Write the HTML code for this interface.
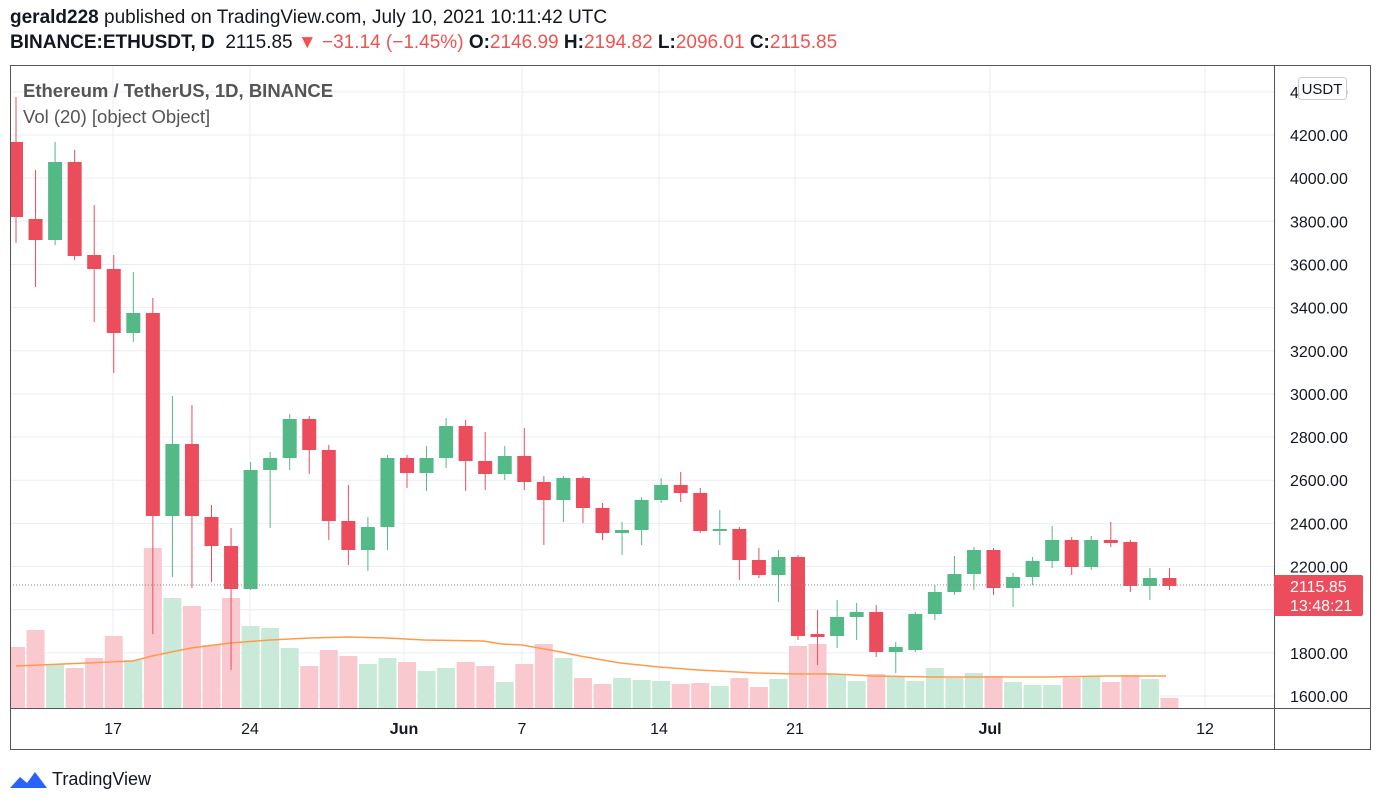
<!DOCTYPE html>
<html><head><meta charset="utf-8"><style>
body{margin:0;background:#fff;width:1381px;height:806px;overflow:hidden;font-family:"Liberation Sans",sans-serif}
.h{position:absolute;left:10px;font-size:19px;color:#131722;white-space:nowrap}
.r{color:#ef5350}
</style></head><body>
<div class="h" style="top:7px"><b>gerald228</b> published on TradingView.com, July 10, 2021 10:11:42 UTC</div>
<div class="h" style="top:32px"><b>BINANCE:ETHUSDT, D</b>&nbsp; 2115.85 <span class="r">▼ −31.14 (−1.45%)</span> <b>O:</b><span class="r">2146.99</span> <b>H:</b><span class="r">2194.82</span> <b>L:</b><span class="r">2096.01</span> <b>C:</b><span class="r">2115.85</span></div>
<svg id="s" width="1381" height="806" style="position:absolute;left:0;top:0" font-family="Liberation Sans, sans-serif"></svg>
<script>
const C=[
[142,217,97,243,0],[219,240,170,287,0],[240,162,142,245,1],[162,256,150,260,0],[255,269,205,322,0],[269,333,255,373,0],[333,313,272,342,1],[313,516,298,634,0],[516,444,396,577,1],[444,516,405,588,0],[517,546,505,582,0],[546,589,528,670,0],[589,470,462,590,1],[470,458,452,528,1],[458,419,414,470,1],[419,450,416,474,0],[450,521,445,540,0],[521,550,485,565,0],[550,527,517,571,1],[527,458,455,550,1],
[458,473,455,488,0],[473,458,446,491,1],[458,426,418,468,1],[426,461,420,491,0],[461,474,432,490,0],[474,456,446,480,1],[456,482,428,490,0],[482,500,476,545,0],[500,478,476,522,1],[478,508,476,523,0],[508,533,503,540,0],[533,530,522,555,1],[530,500,497,545,1],[500,485,478,503,1],[485,493,472,502,0],[493,531,488,533,0],[531,529,510,545,1],[529,560,527,580,0],[560,575,548,578,0],[575,557,550,602,1],[557,636,555,640,0],[634,637,610,665,0],[636,617,600,648,1],[617,612,603,640,1],[612,652,605,657,0],[652,647,642,673,1],[650,614,612,652,1],[614,592,585,620,1],[592,574,556,595,1],[574,550,547,590,1],
[550,588,548,595,0],[588,577,573,607,1],[577,561,557,585,1],[561,540,526,568,1],[540,567,537,575,0],[567,540,536,570,1],[540,543,522,547,0],[542,586,540,592,0],[586,578,568,600,1],[578,586,568,590,0]];
const V=[647,630,664,668,658,636,660,548,598,606,645,598,626,628,648,666,650,656,664,658,662,671,668,662,666,682,664,644,658,678,684,678,680,681,684,683,686,678,687,679,646,644,674,681,674,676,681,668,678,673,676,682,685,685,678,677,682,675,679,698];
const MA=[[16,666],[133,661],[152,656],[191,648],[230,643],[270,640],[309,638],[348,637],[387,638],[424,640],[483,641],[502,644],[522,645],[561,652],[580,656],[620,663],[659,667],[698,670],[756,673],[795,674],[834,674],[873,676],[932,677],[990,677],[1049,677],[1108,676],[1166,676]];
let h='<defs><clipPath id="cp"><rect x="11" y="66" width="1263" height="642"/></clipPath></defs><g clip-path="url(#cp)">';
const X=i=>16+i*19.55;
for(let p=1600;p<=4400;p+=200){const y=135+(4200-p)*0.21577;h+=`<line x1="10" x2="1274" y1="${y}" y2="${y}" stroke="#e9eef6"/>`;}
const T=[[113,'17'],[250,'24'],[404,'Jun'],[522,'7'],[659,'14'],[795,'21'],[990,'Jul'],[1205,'12']];
T.forEach(t=>{h+=`<line x1="${t[0]}" x2="${t[0]}" y1="65" y2="708" stroke="#e9eef6"/>`});
V.forEach((v,i)=>{h+=`<rect x="${X(i)-9}" y="${v}" width="18" height="${708-v}" fill="${C[i][4]?'#c9ead9':'#f9c9cf'}"/>`});
h+=`<polyline fill="none" stroke="#ff9a4d" stroke-width="1.5" points="${MA.map(p=>p.join(',')).join(' ')}"/>`;
C.forEach((c,i)=>{const x=X(i),col=c[4]?'#53b987':'#eb4d5c';const t=Math.min(c[0],c[1]),b=Math.max(c[0],c[1]);
h+=`<line x1="${x}" x2="${x}" y1="${c[2]}" y2="${c[3]}" stroke="${col}"/><rect x="${x-7}" y="${t}" width="14" height="${Math.max(2,b-t)}" fill="${col}"/>`});
h+=`<line x1="10" x2="1274" y1="585" y2="585" stroke="#888" stroke-dasharray="1,2"/></g>`;
h+=`<rect x="10.5" y="65.5" width="1360" height="684" fill="none" stroke="#555"/>`;
h+=`<line x1="1274.5" x2="1274.5" y1="65" y2="750" stroke="#555"/><line x1="10" x2="1371" y1="708.5" y2="708.5" stroke="#555"/>`;
for(let p=1600;p<=4400;p+=200){const y=135+(4200-p)*0.21577;h+=`<text x="1290" y="${y+6}" font-size="16" fill="#131722">${p.toFixed(2)}</text>`;}
h+=`<rect x="1298.5" y="77.5" width="48" height="22" rx="3" fill="#fff" stroke="#ccc"/><text x="1322" y="94" font-size="15" text-anchor="middle" fill="#131722">USDT</text>`;
h+=`<rect x="1274" y="575" width="89" height="41" rx="2" fill="#eb4d5c"/><text x="1290" y="592" font-size="16" fill="#fff">2115.85</text><text x="1290" y="611" font-size="16" fill="#fff">13:48:21</text>`;
T.forEach(t=>{h+=`<text x="${t[0]}" y="734" font-size="16" text-anchor="middle" fill="#131722" ${t[1].length>2?'font-weight="bold"':''}>${t[1]}</text>`});
h+=`<text x="23" y="97" font-size="18.5" fill="#555" font-weight="bold">Ethereum / TetherUS, 1D, BINANCE</text><text x="23" y="123" font-size="18.5" fill="#555">Vol (20) [object Object]</text>`;
h+=`<path d="M10 788 L20 777 L27 783 L35 772 L47 788 Z" fill="#2962ff"/><text x="52" y="785" font-size="18" fill="#131722">TradingView</text>`;
document.getElementById('s').innerHTML=h;
</script>
</body></html>
